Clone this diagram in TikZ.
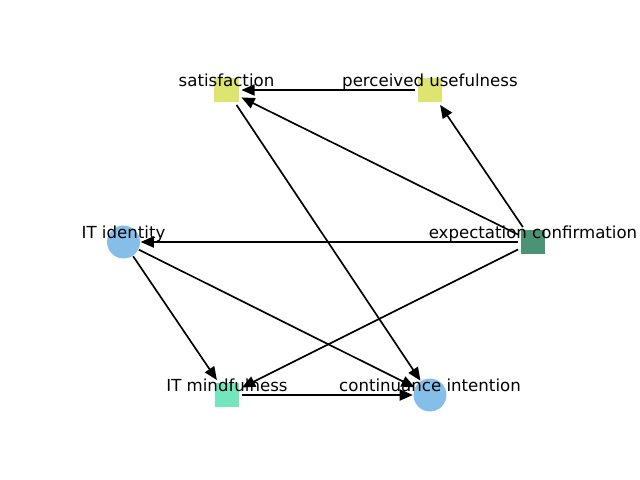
\documentclass[tikz,border=0pt]{standalone}
\usepackage{fontspec}
\setmainfont{DejaVu Sans}
\usepackage{tikz}
\definecolor{paleyellow}{RGB}{221, 229, 112}
\definecolor{deepgreen}{RGB}{74, 147, 116}
\definecolor{mintgreen}{RGB}{116, 230, 190}
\definecolor{skyblue}{RGB}{132, 190, 233}
\usetikzlibrary{arrows.meta, positioning}

\begin{document}
\begin{tikzpicture}[
    x=0.01in, y=-0.01in,
    sq/.style={rectangle, fill=#1, minimum size=18pt, inner sep=0pt, outer sep=1.8pt},
    rnd/.style={circle, fill=#1, minimum size=23.8pt, inner sep=0pt, outer sep=0.5pt},
    lbl/.style={anchor=base, inner sep=0pt, font=\fontsize{12}{14}\selectfont},
    edge/.style={-{Triangle[length=9.5pt, width=8pt]}, line width=1.2pt, black}
]
    \useasboundingbox (0,0) rectangle (640,480);

    % Nodes
    \node[sq=paleyellow] (sat) at (226.5,90) {};
    \node[sq=paleyellow] (pu) at (430,90) {};
    \node[sq=deepgreen] (ec) at (533,242) {};
    \node[rnd=skyblue] (iti) at (123.5,242) {};
    \node[sq=mintgreen] (itm) at (227,395) {};
    \node[rnd=skyblue] (ci) at (430,395) {};

    % Arrows
    \draw[edge] (pu) -- (sat);
    \draw[edge] (ec) -- (pu);
    \draw[edge] (ec) -- (sat);
    \draw[edge] (ec) -- (iti);
    \draw[edge] (ec) -- (itm);
    \draw[edge] (sat) -- (ci);
    \draw[edge] (iti) -- (itm);
    \draw[edge] (iti) -- (ci);
    \draw[edge] (itm) -- (ci);

    % Labels
    \node[lbl] (sat-t) at ([yshift=2.5pt]sat.center) {satisfaction};
    \node[lbl] (pu-t) at ([yshift=2.5pt]pu.center) {perceived usefulness};
    \node[lbl] (ec-t) at ([yshift=2.5pt]ec.center) {expectation confirmation};
    \node[lbl] (iti-t) at ([yshift=2.5pt]iti.center) {IT identity};
    \node[lbl] (itm-t) at ([yshift=2.5pt]itm.center) {IT mindfulness};
    \node[lbl] (ci-t) at ([yshift=2.5pt]ci.center) {continuance intention};
\end{tikzpicture}
\end{document}
